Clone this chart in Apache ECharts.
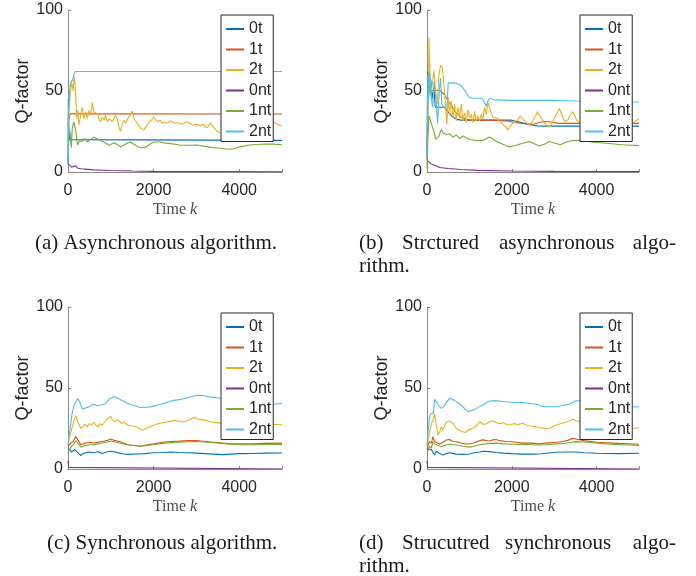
<!DOCTYPE html>
<html><head><meta charset="utf-8">
<script src="https://cdn.jsdelivr.net/npm/echarts@6/dist/echarts.min.js"></script>
<style>html,body{margin:0;padding:0;background:#fff}#c{width:696px;height:576px}</style>
</head><body><div id="c"></div>
<script>
// ---- data ----
const seriesNames = ['0t','1t','2t','0nt','1nt','2nt'];
const yTicks = [0, 50, 100];
const xTicks = [0, 2000, 4000];
const captions = ['(a) Asynchronous algorithm.', '(b) Strctured asynchronous algo-rithm.', '(c) Synchronous algorithm.', '(d) Strucutred synchronous algo-rithm.'];

// (a) Asynchronous
const a0t = [[0,5],[8,45],[18,28],[35,20],[60,19.5],[5000,19.5]];
const a1t = [[0,28],[20,33],[50,36],[80,35.8],[5000,35.8]];
const a2t = [[0,28],[23,29],[45,45],[62,51],[90,55],[120,50],[140,59],[160,56],[179,48],[202,33],[225,38],[256,29],[295,35],[334,40],[370,33],[410,37],[450,33],[490,38],[530,35],[567,43],[606,37],[650,38],[684,36],[720,33],[760,31],[800,34],[840,32],[880,35],[920,31],[960,33],[1000,34],[1040,31],[1072,30],[1110,35],[1150,33],[1190,28],[1228,25],[1270,30],[1310,32],[1350,30],[1400,33],[1461,36],[1500,37.5],[1540,33],[1580,32],[1620,30],[1660,29],[1700,27],[1740,27],[1776,26],[1820,28],[1860,29],[1900,31],[1950,32],[2005,34],[2050,32],[2100,31],[2150,32],[2200,30],[2260,31],[2320,30],[2380,31.5],[2440,31],[2500,30],[2560,30.5],[2630,29.5],[2700,30],[2780,31],[2850,30],[2920,29],[3015,29.5],[3080,28.5],[3150,29.5],[3200,28],[3260,27.5],[3325,30.3],[3370,29],[3403,27.5],[3450,26],[3500,25],[3560,24],[3600,23.5],[3700,24],[3800,25],[3900,26],[4000,27],[4200,28],[4400,28],[4600,29],[4800,31],[4850,30],[4900,29.5],[4950,28.5],[5000,29]];
const a0nt = [[0,5],[30,4.5],[80,3],[120,3.5],[180,3.8],[220,2.5],[300,2],[400,1.8],[600,1.3],[800,1.1],[1000,0.9],[1500,0.6],[2000,0.4],[3000,0.3],[5000,0.2]];
const a1nt = [[0,8],[25,22],[50,25],[75,15],[100,27],[140,31],[163,30],[190,24],[204,20],[225,16.7],[260,19],[300,18],[340,19],[396,20.7],[450,18.6],[520,20],[606,21.4],[684,20.5],[800,19],[900,17.5],[950,16.5],[1000,17],[1072,18],[1150,17],[1228,15.5],[1300,16.5],[1400,18],[1461,18.5],[1550,17],[1650,15.5],[1700,15],[1790,15],[1900,17],[2005,18.5],[2150,18.5],[2238,18],[2400,17.5],[2550,17],[2626,16.5],[2800,16.5],[3015,16.7],[3200,15.8],[3325,15.2],[3500,14.8],[3700,14.2],[3786,14],[3900,14.5],[4000,15.5],[4100,15.8],[4200,16.5],[4400,17],[4600,17.3],[4800,17.2],[5000,16.8]];
const a2nt = [[0,5],[10,10],[15,40],[40,50],[60,55],[110,57],[150,57],[160,62],[5000,62]];

// (b) Structured asynchronous
const b0t = [[0,10],[15,62],[30,50],[60,52],[90,57],[120,45],[160,52],[195,40],[413,40],[500,37],[600,34],[700,32.5],[800,32],[2000,32],[2150,31],[2300,30],[2450,29],[2600,28.5],[2800,28.3],[5000,28.3]];
const b1t = [[0,15],[20,42],[50,52],[100,50.5],[300,50.5],[400,48],[500,44],[600,40],[700,36],[800,34],[900,32.5],[1000,32],[1500,32],[1900,31.5],[2100,30.5],[2300,29.8],[2500,29.5],[2650,30.5],[2750,31.2],[2900,31],[3100,30],[3300,30],[5000,30]];
const b2t = [[0,20],[24,23],[47,83],[71,60],[94,48],[125,54],[165,62.5],[204,50],[243,42],[282,60],[321,66],[360,64.5],[400,54],[439,40],[470,29.5],[502,46],[533,35.5],[572,44],[612,33.5],[651,42],[690,31.5],[729,40],[769,33.5],[808,42],[847,31.5],[886,36.5],[925,30.5],[965,38.5],[1004,33.5],[1043,35.5],[1082,30.5],[1122,37.5],[1161,31.5],[1200,34.5],[1239,31.5],[1278,35.5],[1318,32.5],[1357,40],[1396,35.5],[1435,43],[1474,40],[1520,36],[1560,33.5],[1600,34],[1660,33.5],[1710,31],[1760,30.5],[1800,29],[1850,28],[1906,26],[1950,28],[2000,29.4],[2080,31],[2150,32.5],[2200,34.5],[2259,33],[2330,30.5],[2400,29.5],[2460,30],[2520,33],[2570,35],[2608,37.2],[2650,35],[2700,33],[2780,30],[2830,28.5],[2886,27.7],[2950,30],[3000,33],[3043,35.6],[3080,37],[3121,39.2],[3170,36],[3220,32.5],[3270,31],[3330,32.5],[3380,35],[3435,37.2],[3480,35],[3530,32],[3592,30.5],[3700,30],[4000,31],[4500,31],[4800,30],[4900,31],[4950,32],[5000,33]];
const b0nt = [[0,10],[10,7],[47,6.6],[100,5],[200,4],[300,2.8],[500,2.2],[800,1.5],[1200,1],[2000,0.6],[3000,0.4],[5000,0.3]];
const b1nt = [[0,2],[20,20],[47,34.6],[90,31],[125,28],[165,25],[204,20.3],[243,19.2],[282,22],[337,26.3],[376,24.2],[455,23.2],[533,23.6],[612,21.5],[690,22.8],[769,20.7],[847,22.2],[1004,20.1],[1161,19.4],[1318,19.5],[1474,21.6],[1630,19],[1788,17.2],[1945,15.5],[2100,16.5],[2259,17.7],[2416,18.8],[2530,17.5],[2651,16.1],[2800,17.5],[2886,18.8],[3043,17.6],[3150,16.8],[3278,18.5],[3435,19.4],[3592,19.5],[3800,18.8],[4000,18.2],[4300,17.6],[4600,16.8],[5000,16.3]];
const b2nt = [[0,10],[10,35],[20,60],[40,45],[60,62],[90,48],[130,40],[170,56],[210,45],[250,30],[290,50],[320,58],[350,42],[400,40],[470,40],[500,55],[600,55],[700,54.7],[800,53.5],[900,50],[1000,46],[1100,45.5],[1300,45.5],[1350,43],[1396,40.6],[1440,44],[1474,45.5],[1600,44.5],[2000,44.2],[3000,44.2],[3500,43.8],[4000,43.5],[5000,43.2]];

// (c) Synchronous
const c0t = [[0,13],[40,12],[80,10.5],[120,11.5],[160,12],[200,11],[250,9.5],[300,8.3],[350,9.5],[400,10],[500,10.5],[600,10],[700,10.6],[800,9.6],[900,10.5],[1000,11],[1100,10.5],[1200,9.8],[1300,9.3],[1400,9],[1600,9.3],[1800,9.5],[2000,10],[2200,10.2],[2400,10.5],[2600,10.2],[2800,10],[3000,9.8],[3200,9.5],[3400,9.2],[3600,8.9],[3800,9.2],[4000,9.5],[4300,9.6],[4600,9.8],[5000,9.9]];
const c1t = [[0,14],[60,16],[120,17],[180,20],[230,18],[300,15],[400,16],[500,16.5],[600,16],[700,16.5],[800,17],[900,17.5],[1000,18.5],[1100,17.5],[1200,17],[1300,16],[1400,15],[1550,14.5],[1700,14],[1850,15],[2000,15.5],[2200,16.5],[2400,17],[2600,17.2],[2800,17.5],[3000,17.5],[3200,17],[3400,16.5],[3600,16],[3800,15.5],[4000,15.5],[4300,15.5],[4600,15.8],[5000,16]];
const c2t = [[0,15],[60,22],[120,28],[180,33],[230,29],[300,25],[350,26],[400,27.5],[450,26],[500,28],[550,27],[600,29],[650,27],[700,26],[750,28],[800,27],[860,29],[920,31],[960,30],[1000,32.5],[1040,30],[1100,29],[1150,30.5],[1200,29.5],[1250,28],[1300,29],[1400,27],[1500,26.5],[1600,26],[1700,24.5],[1750,24],[1820,25],[1900,26],[2000,27],[2100,28],[2200,28.5],[2300,29],[2400,29.5],[2500,30],[2600,29.5],[2700,29],[2800,30],[2880,31],[2950,32],[3000,31],[3100,30.5],[3200,30],[3350,29],[3500,28.5],[3600,28],[4000,27.5],[4400,27.5],[4800,27.5],[4900,27.5],[5000,27.3]];
const c0nt = [[0,5],[15,1],[30,0],[5000,0]];
const c1nt = [[0,10],[60,13],[120,15],[180,17.5],[230,16],[300,13.5],[400,14.5],[500,15],[600,15],[700,15.5],[800,16],[900,16.5],[1000,17.3],[1100,16.8],[1200,16],[1300,15.5],[1400,15],[1550,14.5],[1700,14],[1850,14.5],[2000,15],[2200,15.8],[2400,16.3],[2600,16.6],[2800,16.8],[3000,17],[3200,16.7],[3400,16.2],[3600,15.8],[3800,15.3],[4000,15],[4500,15],[5000,15.2]];
const c2nt = [[0,15],[50,25],[100,35],[150,40],[230,43.5],[280,41],[334,37],[400,37.5],[500,38.5],[600,40],[684,39],[780,39.5],[880,40.5],[960,43],[1072,44.7],[1150,44],[1250,42.5],[1400,40.5],[1550,39],[1694,38],[1800,38],[1950,38.5],[2100,39.5],[2300,41],[2500,42.5],[2650,43],[2800,44],[3015,45.5],[3150,45.4],[3300,44.5],[3481,44],[3600,43.5],[3900,42],[4200,41],[4500,40.5],[4800,40],[5000,40.5]];

// (d) Structured synchronous
const d0t = [[0,14],[40,12],[80,13],[102,12.2],[141,10],[180,8.7],[220,11.1],[259,11],[300,9.5],[376,8.7],[455,9.5],[533,10],[690,9.2],[847,9],[1004,9.3],[1100,10],[1239,10.5],[1318,11],[1474,10.7],[1631,10.2],[1800,9.8],[2000,9.5],[2259,9.2],[2500,9.2],[2700,9.4],[3043,10.3],[3300,10.5],[3513,10.5],[3700,10],[4000,9.7],[4500,9.5],[5000,9.7]];
const d1t = [[0,12],[50,17],[102,16],[141,20],[180,17],[220,16],[300,15.5],[376,16.5],[455,17.9],[533,18.2],[600,17],[690,16.8],[800,16],[900,15.5],[1004,15.4],[1100,16],[1239,17.5],[1318,18],[1400,17.5],[1474,17.3],[1553,18],[1631,18.2],[1710,17.5],[1867,17],[2000,16.8],[2259,16],[2450,16],[2651,15.5],[2800,16],[3043,16.5],[3200,17],[3300,17.5],[3435,18.9],[3513,18.5],[3700,17.5],[4000,16.5],[4500,15.8],[5000,15.3]];
const d2t = [[0,14],[60,22],[102,28],[141,30],[180,34],[220,27],[259,21],[300,23],[337,26],[376,24],[420,27],[455,29],[494,30.2],[533,29.5],[580,30.5],[620,28],[690,25],[760,24],[847,23],[900,22.5],[965,24],[1004,25],[1100,25.5],[1180,27],[1239,29.2],[1300,28],[1360,27.5],[1400,28.5],[1474,29],[1553,29.8],[1600,30.5],[1650,28.5],[1710,28],[1800,28.5],[1867,27.5],[1945,27.2],[2050,28],[2150,27.5],[2259,28.2],[2350,27],[2450,26.5],[2573,26.1],[2651,25.5],[2729,25.2],[2800,24.8],[2886,25],[2950,26],[3043,27],[3120,27.8],[3200,28.2],[3300,29],[3435,30.7],[3500,30],[3600,29],[4000,27],[4500,26],[4800,25],[4900,25.2],[5000,25.5]];
const d0nt = [[0,5],[15,1],[30,0],[5000,0]];
const d1nt = [[0,9],[50,14],[102,13],[141,16.9],[180,15.5],[220,14.5],[337,13.8],[455,15],[533,15.3],[690,14.8],[847,14],[1004,13.5],[1100,14],[1239,15],[1474,15.8],[1631,16],[1800,15.5],[2000,15.3],[2259,15.2],[2500,15],[2651,14.8],[2800,15],[3043,15.5],[3300,16],[3513,16.9],[3800,16.5],[4200,15.5],[4600,15],[5000,14.5]];
const d2nt = [[0,15],[50,30],[80,34],[150,34.5],[180,43],[220,42],[280,39],[337,37.4],[400,38.5],[455,41],[533,43.6],[600,43],[690,41.6],[800,39.5],[900,37],[965,35.4],[1004,35.5],[1100,36.5],[1239,38.5],[1350,40],[1474,42],[1600,42.2],[1800,41.7],[2000,41.2],[2259,41],[2500,40.3],[2650,39.5],[2729,38.5],[2900,38.4],[3043,38.4],[3200,39.2],[3350,40],[3513,42.2],[3600,42],[4000,41],[4500,39.5],[4800,38.5],[5000,38.3]];

const panels = [
  [a0t,a1t,a2t,a0nt,a1nt,a2nt],
  [b0t,b1t,b2t,b0nt,b1nt,b2nt],
  [c0t,c1t,c2t,c0nt,c1nt,c2nt],
  [d0t,d1t,d2t,d0nt,d1nt,d2nt]
];

// ---- layout / style ----
const colors = ['#0072BD','#D95319','#EDB120','#7E2F8E','#77AC30','#4DBEEE'];
const grids = [
  {left:68, top:10, width:214, height:162},
  {left:427, top:10, width:212, height:162},
  {left:68, top:307, width:214, height:162},
  {left:427, top:307, width:212, height:162}
];
const legendPos = [
  {left:221, top:15}, {left:580, top:15}, {left:221, top:313}, {left:580, top:313}
];
const axisGray = '#8a8a8a';
const textDark = '#262626';

const chart = echarts.init(document.getElementById('c'), null, {renderer:'canvas'});
const xAxes = [], yAxes = [], series = [], legends = [];
grids.forEach((g, i) => {
  xAxes.push({
    gridIndex:i, type:'value', min:xTicks[0], max:5000, interval:xTicks[1]-xTicks[0],
    axisLine:{show:true, onZero:false, lineStyle:{color:axisGray, width:1}},
    axisTick:{show:true, inside:true, length:3, lineStyle:{color:axisGray}},
    axisLabel:{color:textDark, fontSize:16, fontFamily:'Liberation Sans', margin:11,
      formatter: v => (xTicks.indexOf(v) >= 0 ? String(v) : '')},
    splitLine:{show:false},
    name:'{t|Time }{k|k}', nameLocation:'middle', nameGap:30,
    nameTextStyle:{rich:{
      t:{fontFamily:'Liberation Serif', fontSize:16, color:'#4a4a4a'},
      k:{fontFamily:'Liberation Serif', fontStyle:'italic', fontSize:16, color:'#4a4a4a'}
    }}
  });
  yAxes.push({
    gridIndex:i, type:'value', min:yTicks[0], max:yTicks[2], interval:yTicks[1]-yTicks[0],
    axisLine:{show:true, lineStyle:{color:axisGray, width:1}},
    axisTick:{show:true, inside:true, length:3, lineStyle:{color:axisGray}},
    axisLabel:{color:textDark, fontSize:16, fontFamily:'Liberation Sans', margin:5},
    splitLine:{show:false},
    name:'Q-factor', nameLocation:'middle', nameGap:36,
    nameTextStyle:{color:textDark, fontSize:18, fontFamily:'Liberation Sans'}
  });
  panels[i].forEach((d, s) => {
    series.push({
      type:'line', name:seriesNames[s], xAxisIndex:i, yAxisIndex:i, data:d,
      symbol:'none', showSymbol:false, animation:false, silent:true,
      lineStyle:{color:colors[s], width:1.1}, itemStyle:{color:colors[s]}, z:2
    });
  });
  legends.push({
    data:seriesNames, orient:'vertical', left:legendPos[i].left, top:legendPos[i].top,
    backgroundColor:'#fff', borderColor:'#262626', borderWidth:1,
    padding:[6,2,2,5], itemGap:4.5, itemWidth:18, itemHeight:2, icon:'rect',
    textStyle:{color:textDark, fontSize:16, fontFamily:'Liberation Sans', lineHeight:16},
    selectedMode:false, z:10
  });
});

const capFont = '21px "Liberation Serif"';
const capColor = '#1a1a1a';
function txt(x, y, t, align) {
  return {type:'text', x:x, y:y, style:{text:t, font:capFont, fill:capColor, textAlign:align||'left', textVerticalAlign:'middle'}};
}
const graphic = [
  txt(35, 243, captions[0]),
  txt(359, 243, '(b)'), txt(402, 243, 'Strctured'), txt(499, 243, 'asynchronous'), txt(676, 243, 'algo-', 'right'),
  txt(359, 266, 'rithm.'),
  txt(47, 543, captions[2]),
  txt(359, 543, '(d)'), txt(402, 543, 'Strucutred'), txt(505, 543, 'synchronous'), txt(676, 543, 'algo-', 'right'),
  txt(359, 566, 'rithm.')
];

chart.setOption({
  animation:false,
  grid:grids.map(g => Object.assign({containLabel:false}, g)),
  xAxis:xAxes, yAxis:yAxes, series:series, legend:legends, graphic:graphic
});
</script></body></html>
